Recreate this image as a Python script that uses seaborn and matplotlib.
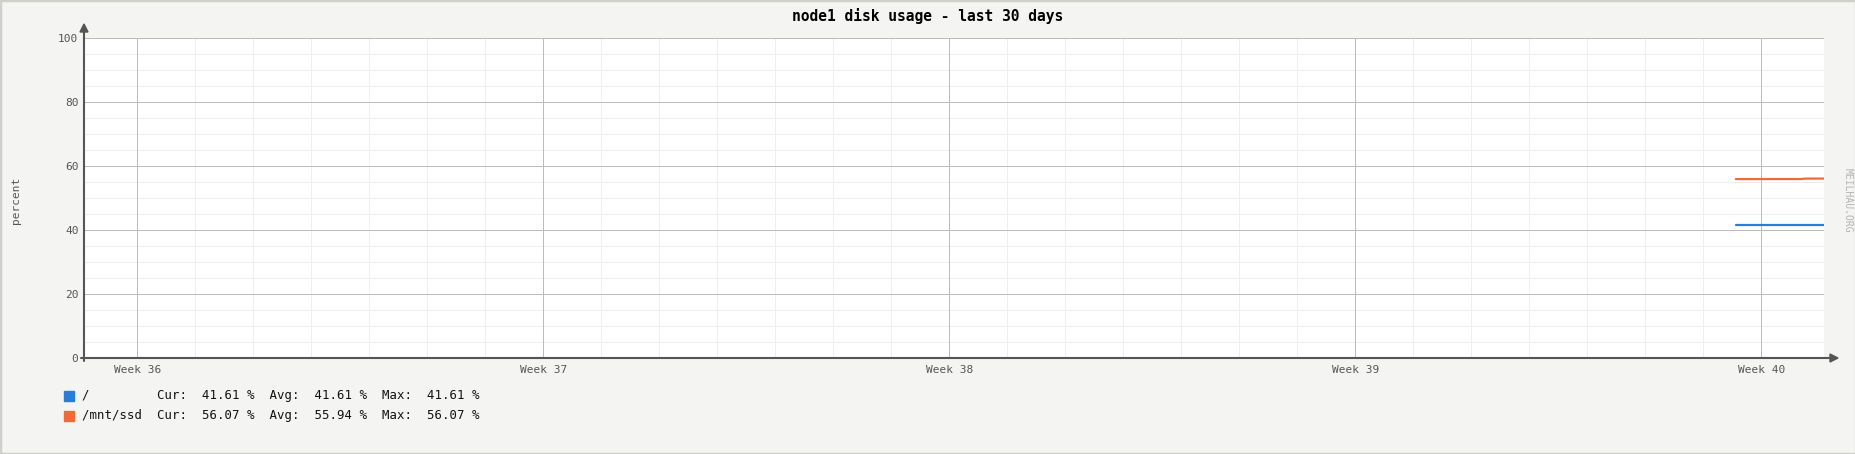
import matplotlib
matplotlib.use("Agg")
import matplotlib.pyplot as plt
from matplotlib.lines import Line2D
from matplotlib.patches import Polygon, Rectangle
import seaborn as sns
import pandas as pd

# data (x = days since start of the 30 day window)
days = [28.48, 28.75, 29.0, 29.25, 29.5, 29.62, 29.66, 29.8, 30.0]
root_pct = [41.61, 41.61, 41.61, 41.61, 41.61, 41.61, 41.61, 41.61, 41.61]
ssd_pct = [55.91, 55.91, 55.92, 55.92, 55.92, 55.93, 56.05, 56.07, 56.07]
series_names = ["/", "/mnt/ssd"]
series_colors = ["#2b7bd8", "#ee6a3a"]
legend_stats = [(41.61, 41.61, 41.61), (56.07, 55.94, 56.07)]
week_labels = ["Week 36", "Week 37", "Week 38", "Week 39", "Week 40"]
week_pos = [0.92, 7.92, 14.92, 21.92, 28.92]
y_major = [0, 20, 40, 60, 80, 100]
title = "node1 disk usage - last 30 days"

df = pd.concat([
    pd.DataFrame({"day": days, "value": root_pct, "mount": "/"}),
    pd.DataFrame({"day": days, "value": ssd_pct, "mount": "/mnt/ssd"}),
])

sns.set_style("white")
plt.rcParams["font.family"] = ["DejaVu Sans Mono", "DejaVu Sans"]

W, H = 1856, 454
fig = plt.figure(figsize=(W / 100, H / 100), dpi=100)
fig.patch.set_facecolor("#f4f4f2")
fig.add_artist(Rectangle((0, 0), 1, 1, transform=fig.transFigure, fill=False,
                         edgecolor="#cfcfcb", linewidth=2.5))

x0, x1, y0, y1 = 84, 1824, 38, 358
ax = fig.add_axes([x0 / W, 1 - y1 / H, (x1 - x0) / W, (y1 - y0) / H])
ax.set_facecolor("white")

sns.lineplot(data=df, x="day", y="value", hue="mount", palette=series_colors,
             hue_order=series_names, linewidth=1.6, legend=False, ax=ax)

ax.set_xlim(0, 30)
ax.set_ylim(0, 100)

# grid: minors every 5 % / every day, majors drawn on top of them
ax.set_yticks(y_major)
ax.set_yticks(range(0, 101, 5), minor=True)
ax.set_xticks(week_pos)
ax.set_xticks([week_pos[0] + k for k in range(29)], minor=True)
ax.grid(which="minor", color="#eeeeee", linewidth=0.72)
ax.set_axisbelow(True)
for v in y_major:
    ax.axhline(v, color="#bcbcbc", linewidth=0.72, zorder=0.8)
for d in week_pos:
    ax.axvline(d, color="#bcbcbc", linewidth=0.72, zorder=0.8)
for s in ax.spines.values():
    s.set_visible(False)

ax.set_xticklabels(week_labels, fontsize=8, color="#555555")
ax.set_yticklabels([str(v) for v in y_major], fontsize=8, color="#555555")
ax.tick_params(which="both", length=0, pad=4)
ax.tick_params(axis="x", pad=5)
ax.set_xlabel("")
ax.set_ylabel("")

# axis lines with arrows (figure pixel coords)
def fx(px):
    return px / W

def fy(py):
    return 1 - py / H

axis_col = "#555555"
fig.add_artist(Line2D([fx(x0), fx(x0)], [fy(y1 + 3), fy(31)], color=axis_col, linewidth=1.5))
fig.add_artist(Line2D([fx(x0 - 3), fx(1831)], [fy(y1), fy(y1)], color=axis_col, linewidth=1.5))
fig.add_artist(Polygon([(fx(x0 - 4), fy(32)), (fx(x0 + 4), fy(32)), (fx(x0), fy(24))],
                       closed=True, transform=fig.transFigure, color=axis_col))
fig.add_artist(Polygon([(fx(1830), fy(y1 - 4)), (fx(1830), fy(y1 + 4)), (fx(1838), fy(y1))],
                       closed=True, transform=fig.transFigure, color=axis_col))

# texts
fig.text(0.5, fy(16), title, ha="center", va="center", fontsize=10.5,
         fontweight="bold", color="#000000")
fig.text(fx(16), fy(200), "percent", rotation=90, ha="center", va="center",
         fontsize=8, color="#555555")
fig.text(fx(1848), fy(200), "MEILHAU.ORG", rotation=-90, ha="center", va="center",
         fontsize=7, color="#b4b4b4")

# legend
for i, (name, col, st) in enumerate(zip(series_names, series_colors, legend_stats)):
    yc = 396 + i * 19.5
    fig.add_artist(Rectangle((fx(64), fy(yc + 5)), 10 / W, 10 / H,
                             transform=fig.transFigure, color=col))
    line = f"{name:<8}  Cur:  {st[0]:.2f} %  Avg:  {st[1]:.2f} %  Max:  {st[2]:.2f} %"
    fig.text(fx(82), fy(yc), line, ha="left", va="center", fontsize=8.9, color="#111111")

fig.savefig("out.png", dpi=100, facecolor=fig.get_facecolor())
